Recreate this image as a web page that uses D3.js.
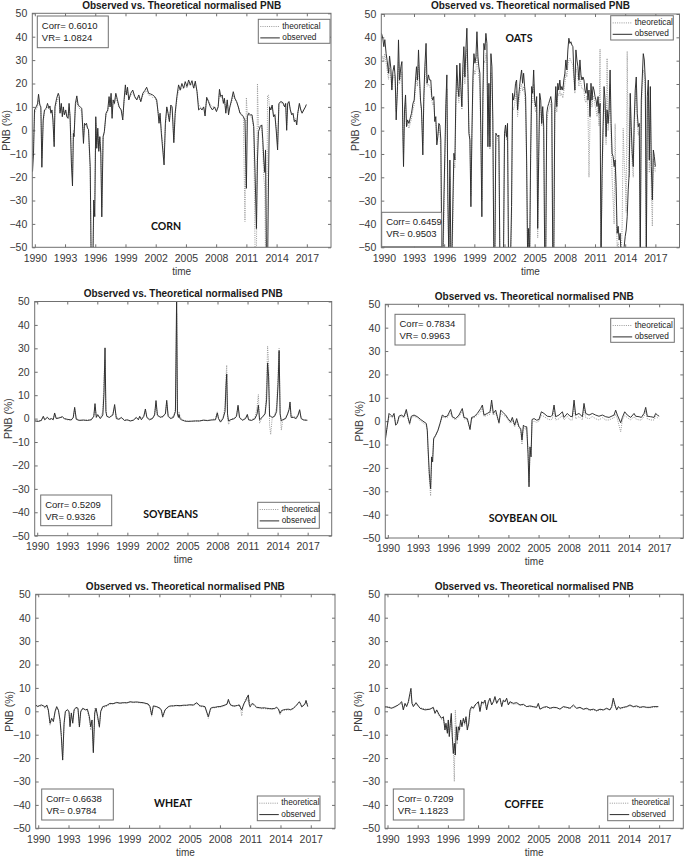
<!DOCTYPE html>
<html>
<head>
<meta charset="utf-8">
<script src="https://cdn.jsdelivr.net/npm/d3@7"></script>
<style>
body { margin: 0; background: #fff; }
svg text { font-family: "Liberation Sans", Arial, sans-serif; }
</style>
</head>
<body>
<svg id="fig" width="685" height="858"></svg>
<script>
// ---- data: decimal year, observed and theoretical normalised PNB (%) ----
const cornT = [1989.77,1989.87,1989.97,1990.13,1990.27,1990.37,1990.5,1990.6,1990.7,1990.83,
1990.96,1991.13,1991.26,1991.4,1991.5,1991.6,1991.7,1991.8,1991.92,1992.0,
1992.17,1992.33,1992.43,1992.5,1992.63,1992.73,1992.83,1992.93,1993.07,1993.17,
1993.3,1993.4,1993.5,1993.63,1993.74,1993.83,1993.9,1994.03,1994.17,1994.3,
1994.5,1994.66,1994.83,1994.93,1995.03,1995.13,1995.23,1995.33,1995.5,1995.59,
1995.75,1995.85,1995.95,1996.05,1996.15,1996.25,1996.35,1996.45,1996.55,1996.65,
1996.78,1996.9,1997.07,1997.24,1997.37,1997.47,1997.57,1997.67,1997.77,1997.9,
1998.04,1998.2,1998.37,1998.57,1998.73,1998.86,1998.99,1999.09,1999.2,1999.33,
1999.52,1999.72,1999.92,2000.12,2000.32,2000.52,2000.72,2000.92,2001.1,2001.3,
2001.5,2001.7,2001.9,2002.1,2002.24,2002.33,2002.43,2002.56,2002.7,2002.83,
2002.96,2003.1,2003.23,2003.36,2003.5,2003.63,2003.8,2003.93,2004.1,2004.27,
2004.43,2004.6,2004.77,2004.93,2005.1,2005.27,2005.43,2005.6,2005.77,2005.93,
2006.1,2006.26,2006.43,2006.6,2006.76,2006.9,2007.06,2007.23,2007.43,2007.63,
2007.83,2008.03,2008.2,2008.33,2008.46,2008.6,2008.72,2008.82,2008.96,2009.1,
2009.23,2009.36,2009.53,2009.7,2009.86,2010.03,2010.2,2010.36,2010.53,2010.7,
2010.86,2011.0,2011.1,2011.23,2011.4,2011.56,2011.73,2011.86,2012.0,2012.1,
2012.2,2012.37,2012.53,2012.63,2012.73,2012.83,2012.9,2013.0,2013.1,2013.2,
2013.3,2013.43,2013.56,2013.7,2013.83,2013.96,2014.1,2014.23,2014.43,2014.63,
2014.8,2014.9,2015.0,2015.1,2015.23,2015.36,2015.5,2015.63,2015.76,2015.9,
2016.0,2016.1,2016.26,2016.4,2016.53,2016.7,2016.86,2016.95];
const cornObs = [-17.7,-10,8.7,10,11.3,15.4,10.8,10,-15.8,4.4,
8.7,9.4,11.5,9.4,10.4,7.3,8.7,4.4,-7,10,
13.7,15.8,14.4,7.3,11.5,5.8,10,6.6,8.7,5.8,
5.1,11.5,5.8,-14,-23.8,-1.3,-2.7,11.5,14.7,10.8,
10,9.4,-5.6,3,2.3,3,0.9,0.4,-15.5,-55,
-60,-29.8,-36.9,5.8,-7.7,0.9,-9,-2.7,-10,-37,
-2.7,-0.6,7.3,8.7,14.4,10,15.8,5.1,13,11.5,
15.8,13,10,8.7,4.4,13,19.4,15.1,18.4,13,
15.8,17.2,14.4,13,15.1,12.3,15.8,17,18.4,15.8,
15.5,15.1,14.4,13,7.3,3,7.3,-1.3,-8.4,-14.8,
3,10,7.3,3.7,10.8,10,-5.3,7.3,14.4,19.4,
17.2,20,18,20.8,18.7,21.5,19.4,21.2,18,21,
16.5,8.7,9.4,8.7,10,6.1,14.1,12.3,10,8.7,
10,8,10,17.5,14.4,15.1,11.5,13.7,7.3,13,
6.6,10,13,16.5,13.7,12.3,10,7.3,6.6,5.8,
4.4,-24.8,5.8,7.3,6.6,6.6,1.6,-18,-42,-12.7,
-0.6,1.6,2.3,-4,-12.7,-18,-8.4,-60,-60,-20,
10,8.7,10.8,5.8,6.6,0.1,-8.4,11.5,12.3,11.8,
10,11.5,0,11.5,12.3,8.7,6.6,7.3,3.7,4.4,
2.3,7.3,11.5,8.7,7.3,8.7,10,11];
const cornTheo = [-12,-6,7,9,10,13,11,9,-12,3,
8,9,10,9,9,8,8,5,-5,9,
12,14,13,8,10,7,9,7,8,6,
6,10,6,-10,-20,0,-1,10,13,10,
9,8,-3,2,2,2,1,0,-20,-55,
-60,-35,-30,3,-6,-1,-8,-3,-8,-33,
-3,-1,7,8,12,10,14,7,12,11,
14,12,10,9,6,12,17,15,17,13,
15,16,14,13,14,12,15,16,17,15,
15,14,14,12,8,4,6,0,-6,-12,
2,9,7,4,10,9,-4,6,13,17,
17,18,18,19,18,20,19,20,18,20,
17,11,10,9,10,8,13,13,11,10,
10,9,10,16,14,14,12,13,9,12,
8,10,12,15,13,12,10,8,7,6,
-39,14,6,7,6,5,1,-50,-55,20,
1,2,2,-8,-20,-25,-55,-60,15,15,
9,9,10,6,7,1,-6,11,12,11,
10,11,2,11,12,9,7,7,4,5,
3,7,11,9,8,9,10,11];

const oatsT = [1989.77,1989.9,1990.0,1990.1,1990.23,1990.33,1990.47,1990.57,1990.7,1990.8,
1990.9,1991.03,1991.13,1991.23,1991.36,1991.46,1991.56,1991.7,1991.8,1991.9,
1991.96,1992.06,1992.16,1992.26,1992.36,1992.5,1992.62,1992.75,1992.9,1993.02,
1993.15,1993.25,1993.35,1993.45,1993.55,1993.65,1993.75,1993.88,1993.98,1994.08,
1994.2,1994.3,1994.44,1994.54,1994.67,1994.77,1994.87,1994.97,1995.07,1995.17,
1995.27,1995.37,1995.47,1995.57,1995.67,1995.77,1995.87,1995.97,1996.07,1996.17,
1996.27,1996.37,1996.47,1996.57,1996.67,1996.77,1996.87,1996.97,1997.07,1997.16,
1997.26,1997.36,1997.46,1997.56,1997.66,1997.76,1997.86,1997.96,1998.06,1998.16,
1998.26,1998.36,1998.46,1998.56,1998.66,1998.76,1998.86,1998.96,1999.06,1999.16,
1999.26,1999.36,1999.45,1999.55,1999.65,1999.75,1999.85,1999.95,2000.05,2000.15,
2000.25,2000.35,2000.45,2000.55,2000.65,2000.75,2000.84,2000.94,2001.04,2001.14,
2001.24,2001.34,2001.44,2001.54,2001.64,2001.74,2001.9,2002.0,2002.1,2002.2,
2002.3,2002.4,2002.5,2002.6,2002.7,2002.8,2002.9,2003.0,2003.1,2003.2,
2003.3,2003.4,2003.5,2003.6,2003.7,2003.8,2003.9,2004.0,2004.1,2004.2,
2004.3,2004.4,2004.5,2004.6,2004.7,2004.8,2004.9,2005.0,2005.1,2005.2,
2005.3,2005.4,2005.5,2005.6,2005.7,2005.8,2005.9,2006.0,2006.1,2006.2,
2006.3,2006.4,2006.5,2006.6,2006.7,2006.8,2006.9,2007.0,2007.1,2007.2,
2007.3,2007.4,2007.5,2007.6,2007.7,2007.8,2007.9,2008.0,2008.1,2008.2,
2008.3,2008.4,2008.5,2008.6,2008.7,2008.8,2008.9,2009.0,2009.1,2009.2,
2009.3,2009.4,2009.5,2009.6,2009.7,2009.8,2009.9,2010.0,2010.1,2010.2,
2010.3,2010.4,2010.5,2010.6,2010.7,2010.8,2010.9,2011.0,2011.1,2011.2,
2011.3,2011.4,2011.5,2011.6,2011.7,2011.8,2011.9,2012.0,2012.1,2012.2,
2012.3,2012.4,2012.5,2012.6,2012.7,2012.8,2012.9,2013.0,2013.1,2013.2,
2013.3,2013.4,2013.5,2013.6,2013.7,2013.8,2013.9,2014.0,2014.1,2014.2,
2014.3,2014.4,2014.5,2014.6,2014.7,2014.8,2014.9,2015.0,2015.1,2015.2,
2015.3,2015.4,2015.5,2015.6,2015.7,2015.8,2015.9,2016.0,2016.1,2016.2,
2016.3,2016.4,2016.5,2016.6,2016.7,2016.8,2016.9,2017.0];
const oatsObs = [41.7,39.6,36,39,33,30,24.6,32,26.7,17.4,
25.3,28,23,4.6,18.9,38.9,21.7,27.4,29.6,-2.6,
-15.4,8.9,15.3,1.7,4.6,3.1,5.3,7.4,11.7,13.1,
21.7,27.4,21.7,34.6,23,13.1,8.9,-10.4,14.6,27.4,
37.4,20.3,23.9,21.7,21.7,14.6,13.1,14.6,3.9,6,
-6.1,-2.6,3.1,2.4,-4,-55,-55,-29.7,-9.7,11.7,
23.9,-29.7,-55,-12.6,-55,-55,-29.7,-9.7,-12.6,13.1,
28.1,18.9,14.6,28.9,18.9,10.3,27.4,36,23,34.6,
43.9,24.6,-1.1,-4,-32.6,-1.1,23,33,28.9,31.7,
42.4,31.7,27.4,24.6,-1.1,-36.9,14.6,37.4,34.6,41.7,
37.4,-6.9,20.3,-6.9,33,27.4,4.6,-55,-55,-1.1,
-1.9,-2.6,-1.9,-55,-55,-55,-55,-1.1,2.4,-2.6,
3.1,-55,-55,-55,-32.6,16,13.1,15.3,20.3,21.7,
8.9,14.6,18.9,23,26,20.3,24.6,18.9,14.6,-12.6,
-55,-41.9,-55,-9.7,18.9,16,26,13.1,10.3,14.6,
-41.9,-11.1,16,13.1,3.1,10.3,1.7,-55,-55,7.4,
10.3,11.7,13.1,14.6,11.7,-55,-55,8.9,18.9,10.3,
20.3,17.4,21.7,17.4,18.9,17.4,21.7,24.6,30.3,26,
34.6,39.6,37.4,38.1,36.7,36,24.6,17.4,34.6,30.3,
27.4,21.7,30.3,23.9,21.7,23,21.7,17.4,16,20.3,
13.1,17.4,6,20.3,13.1,18.9,17.4,14.6,13.1,10.3,
14.6,7.4,11.7,-55,-18.3,1.7,18.9,13.1,-2.6,8.9,
3.1,8.9,26,3.1,-9.7,-11.1,-15.4,-12.6,-24,-44,
-41,-46.9,-44,-55,-55,-55,-49.7,-45.4,-42.6,-36.9,
-25.4,-18.3,16,1.7,-9.7,-15.4,4.6,17.4,23,7.4,
1.7,3.1,-55,13.1,23,33,30.3,21.7,-55,14.6,
21.7,-12.6,18.9,-15.4,-29.7,-8.3,-11.1,-15.4];
const oatsTheo = [30,32,30,33,29,26,22,27,23,18,
22,24,21,8,17,30,20,24,25,0,
-10,7,12,2,3,1,3,5,9,11,
18,23,19,28,21,12,8,-6,12,22,
30,19,20,19,18,13,11,12,4,4,
-4,-2,1,0,-10,-55,-55,-40,-15,8,
18,-35,-55,-20,-55,-55,-40,-14,-16,8,
22,16,12,22,16,9,21,28,20,28,
35,22,2,-3,-28,-3,18,26,24,26,
33,27,23,20,-5,-30,8,30,29,33,
31,-2,15,-8,25,22,2,-55,-55,-3,
-3,-4,-5,-55,-55,-55,-55,-3,0,-4,
1,-55,-55,-55,-40,10,9,11,15,17,
6,11,15,18,20,17,19,15,10,-15,
-55,-48,-55,-14,13,12,20,10,8,11,
-46,-15,11,10,2,7,-2,-55,-55,3,
7,9,10,12,9,-55,-55,5,15,8,
16,15,17,15,16,14,17,20,25,23,
28,30,31,30,29,28,22,16,27,25,
23,19,24,20,18,18,17,13,12,15,
9,-20,4,16,10,15,14,11,9,6,
10,2,35,-50,-25,-2,12,8,-6,31,
0,5,20,-2,-20,-30,-40,3,-30,-50,
-48,-55,-55,-55,-40,1,-13,-20,-35,34,
-10,-20,10,-3,-14,-20,0,12,18,3,
-2,0,-55,8,18,26,25,17,-55,9,
15,-18,13,-25,-41,-12,-14,-18];

const soyT = [1989.75,1990.1,1990.4,1990.61,1990.75,1991.01,1991.2,1991.45,1991.6,1991.74,
1991.9,1992.2,1992.51,1992.7,1993.0,1993.4,1993.6,1993.74,1993.9,1994.2,
1994.6,1995.0,1995.4,1995.65,1995.77,1995.9,1996.04,1996.3,1996.55,1996.67,
1996.77,1996.86,1996.95,1997.2,1997.55,1997.73,1997.9,1998.17,1998.4,1998.7,
1999.0,1999.3,1999.6,1999.9,2000.1,2000.23,2000.4,2000.65,2000.8,2000.95,
2001.2,2001.5,2001.72,2001.86,2002.0,2002.3,2002.55,2002.8,2002.93,2003.07,
2003.3,2003.6,2003.8,2003.92,2004.0,2004.1,2004.16,2004.25,2004.4,2004.7,
2005.0,2005.4,2005.8,2006.2,2006.6,2007.0,2007.4,2007.8,2007.98,2008.1,
2008.3,2008.55,2008.75,2008.85,2008.92,2009.0,2009.1,2009.3,2009.7,2009.9,
2010.05,2010.2,2010.5,2010.8,2010.98,2011.1,2011.4,2011.75,2011.95,2012.08,
2012.2,2012.45,2012.75,2012.9,2013.0,2013.1,2013.2,2013.31,2013.45,2013.7,
2013.9,2014.05,2014.15,2014.25,2014.37,2014.5,2014.8,2015.0,2015.15,2015.24,
2015.35,2015.6,2015.85,2016.05,2016.2,2016.35,2016.6,2016.97];
const soyObs = [-1,-1.2,-0.8,1,-0.5,0.5,-0.3,0,-0.5,2.4,
0,0.3,0.8,0,-0.3,-0.6,0.5,4.8,-0.3,-0.8,
-0.6,-0.8,-0.5,1,6.4,0.5,1.7,0,1.5,11,
30.2,3,1,0.5,1.5,6,0,-0.3,0.5,-0.8,
-0.5,-1,-0.7,0.5,-0.5,1,-0.5,1,4.1,0.5,
-0.5,0,1.5,7.7,1.5,0.5,1,2,7.8,1,
0,0.5,3,52,2,0.5,1.7,0,-0.5,-1,
-1.2,-1.1,-1,-1,-0.7,-0.8,-0.6,-0.5,2.4,0,
-1.5,0,3,14,19,2,-1,-0.5,0,1,
5.7,0.5,-0.7,0,1.7,-0.5,-0.8,0,2,5.7,
-0.5,0.5,2,8,23.8,18,1,1,0.5,1,
3,15,29,2,-1,-0.5,0,2,4,7.1,
0.5,0.5,0,1.5,3.8,0,-0.6,-0.7];
const soyTheo = [-0.5,-1,-1,0.5,-0.5,0.8,-0.5,0,-0.5,2,
0,0.5,0.6,0,-0.5,-0.5,0.5,4,0,-0.5,
-0.8,-0.6,-0.5,1,5,1,1.2,0.5,3,18,
25,4,1,0.5,2,5,0.5,0,0.3,-0.5,
-0.8,-1,-0.5,0.5,-0.5,0.8,0,1.5,3.5,0.5,
0,0,2,6.5,1,1,0.5,2.5,7,1.5,
0.5,1,4,45,3,1,3,1,0,-1,
-1,-1.2,-1,-1.1,-0.5,-1,-0.5,0,3,0.5,
-1,0.5,5,18,22.8,1,-2.5,-0.5,0.5,1.5,
5,0,-0.5,0.5,2,-0.5,-0.5,0.5,5,10.3,
-2,0.5,2.5,14,31,24,-3,-6.8,0,1.5,
5,20,30,3,-5,-1,0.5,2,4,6,
1,1,0.5,2,3.5,0.5,-0.5,-0.8];

const soyOilT = [1989.75,1990.12,1990.28,1990.45,1990.62,1990.78,1990.95,1991.11,1991.34,1991.61,
1991.84,1992.01,1992.17,1992.34,1992.61,1992.94,1993.27,1993.6,1993.83,1993.93,
1994.0,1994.13,1994.26,1994.36,1994.46,1994.56,1994.76,1994.99,1995.19,1995.42,
1995.66,1995.92,1996.25,1996.42,1996.75,1997.08,1997.41,1997.58,1997.91,1998.18,
1998.34,1998.58,1998.91,1999.24,1999.41,1999.57,1999.9,2000.17,2000.33,2000.5,
2000.73,2000.9,2001.06,2001.23,2001.49,2001.73,2001.96,2002.22,2002.39,2002.62,
2002.82,2003.05,2003.22,2003.35,2003.49,2003.65,2003.82,2003.95,2004.05,2004.15,
2004.25,2004.35,2004.55,2004.81,2005.04,2005.28,2005.54,2005.87,2006.21,2006.37,
2006.54,2006.7,2007.03,2007.37,2007.53,2007.86,2008.13,2008.36,2008.53,2008.69,
2009.02,2009.36,2009.52,2009.69,2010.02,2010.35,2010.68,2011.01,2011.35,2011.68,
2012.01,2012.51,2012.67,2012.84,2013.17,2013.34,2013.57,2013.83,2014.17,2014.5,
2014.66,2015.0,2015.23,2015.49,2015.66,2015.82,2016.16,2016.49,2016.65,2016.82,
2017.0];
const soyOilObs = [-8.1,3.3,2.6,1.9,3.3,-1.7,-1,2.1,2.6,1.9,
5,1.6,-1,2.1,2.6,1.9,0.7,-0.3,-1,-3.9,
-11,-22.4,-28.9,-15.3,-17.4,-7.4,-6,-3.9,-1,2.6,
1.9,2.1,5,1.9,1.1,2.6,5.4,1.6,1.1,-3.6,
1.6,1.9,3.3,5.4,6.9,2.6,3.3,4,9,3.3,
4.7,1.9,-0.7,4.7,3.6,2.6,1.1,-0.3,1.6,-1.7,
1.1,-2.4,-3.1,-8.1,-1.7,-2.4,-2.4,-13.9,-28.1,-11,
-15.3,0.7,1.1,0.4,0.7,4,3.3,2.1,1.9,2.6,
6.9,1.9,2.6,4,1.6,3.3,2.1,1.9,9,2.6,
3.3,1.9,7.6,3.3,2.6,3.3,2.6,2.1,2.6,1.9,
1.6,2.6,4.7,2.6,-0.7,1.6,4,2.6,1.6,3.3,
2.1,1.9,1.6,3.3,5.9,2.1,1.9,1.6,3.3,2.6,
2.1];
const soyOilTheo = [-7,2,2,1.5,2.5,-1,-0.5,1.5,2,1.5,
4,1,-1.5,1.5,2,1.5,0,-1,-2,-4.5,
-12,-25,-32,-18,-15,-8,-6.5,-4,-1.5,2,
1.5,1.5,3.5,1.5,0.5,2,4,1,0.5,-3,
1,1.5,2.5,4,5.5,2,2.5,3,7,2.5,
3.5,1.5,-1,3.5,2.5,2,0.5,-1,0.5,-2.5,
0,-3,-4,-10,-2.5,-3.5,-3,-12,-26,-13,
-14,-0.5,0,-0.5,0,2.5,2,1,0.5,1,
5,0.5,1,2.5,0.5,2,0.5,0.5,7,1,
2,0.5,6,1.5,1,2,1,0.5,1.5,0.5,
0.5,1.5,3,1,-4.6,0.5,2.5,1.5,0.5,2,
1,0.5,0.5,2,4.5,1,0.5,0.5,2,1.5,
1];

const wheatT = [1989.75,1989.95,1990.15,1990.34,1990.55,1990.67,1990.85,1991.0,1991.17,1991.33,
1991.5,1991.67,1991.83,1992.0,1992.16,1992.29,1992.42,1992.56,1992.69,1992.89,
1993.05,1993.15,1993.28,1993.42,1993.55,1993.75,1993.94,1994.08,1994.21,1994.41,
1994.67,1994.87,1995.07,1995.2,1995.33,1995.46,1995.6,1995.73,1995.89,1996.06,
1996.19,1996.39,1996.72,1996.9,1997.11,1997.4,1997.77,1998.1,1998.43,1998.8,
1999.1,1999.4,1999.75,2000.1,2000.4,2000.9,2001.07,2001.24,2001.4,2001.74,
2002.07,2002.2,2002.33,2002.56,2002.89,2003.1,2003.39,2003.7,2004.05,2004.4,
2004.71,2005.0,2005.37,2005.7,2006.03,2006.3,2006.52,2006.85,2007.08,2007.3,
2007.51,2007.8,2008.01,2008.3,2008.51,2008.7,2008.84,2008.95,2009.07,2009.3,
2009.5,2009.75,2009.93,2010.05,2010.16,2010.27,2010.39,2010.55,2010.65,2010.82,
2010.9,2010.98,2011.1,2011.25,2011.45,2011.64,2011.9,2012.14,2012.4,2012.63,
2012.9,2013.13,2013.4,2013.62,2013.8,2013.95,2014.1,2014.28,2014.5,2014.78,
2015.0,2015.27,2015.45,2015.6,2015.75,2015.87,2016.0,2016.1,2016.33,2016.45,
2016.53,2016.7];
const wheatObs = [2.7,2,2.5,2.7,2.2,1.7,2.7,0.6,-5.1,-3,
-4.4,0,2,0.5,-3.7,-10.8,-20.8,-5.1,0,0.6,
0,-6.6,-0.7,-5.1,0.6,1.7,1.3,-6.6,0,1.3,
0.6,0.9,-2.3,-6.6,-3.7,-17.7,-0.7,1.3,-2.3,-6.6,
0,2,2.4,2.8,3.4,3.2,3.8,3.5,3.7,3.6,
4.1,3.9,4,3.8,3.7,3.1,2,-1.6,2.3,2,
1.3,0.5,-2.3,0.6,2,2.3,2.3,2.5,2.4,2.6,
2.6,2.8,2.7,3.7,2.3,2.2,2,-2.3,1.3,1.7,
1.7,2,2,2.4,2.7,3,5.1,3.5,2.7,2.3,
2.3,2.5,2.7,1.5,0.6,2,3.4,4.5,5.6,7,
3,2,2.5,3.4,2.5,1.7,1.6,1.4,1.5,1.3,
1.2,1.1,1.2,1.7,1,-0.9,0.3,0.6,0.8,0.9,
0.7,1.3,2,2.7,3.5,4.1,3,1.9,2.7,3.5,
4.6,2];
const wheatTheo = [2.2,2.5,2,2.3,2.5,1.3,2.2,0.3,-6,-3.5,
-4,-0.5,1.5,0.3,-4,-9,-21,-6,-0.5,1,
-0.5,-6,-1.5,-4.5,0,1.2,1,-7,-0.5,1,
0.8,0.5,-4,-8,-4,-17,1.5,1,-3,-7,
-0.5,1.5,2,2.5,3,3.4,3.5,3.3,3.5,3.8,
3.8,3.7,3.8,3.6,3.4,3,1.8,-2.2,2,1.8,
1,0.2,-2.8,0.3,1.8,2,2.4,2.3,2.2,2.4,
2.5,2.6,2.5,3.3,2,2,1.8,-3,0.8,1.5,
1.5,1.8,1.8,2,2.5,3.5,4.5,3.8,2.5,2.2,
2,2.8,2.5,1,-2,1.5,3,5.5,6,4,
5,1.5,3.5,3,2.2,1.5,1.2,1.1,1.2,1,
0.9,0.8,1,1.5,0.8,-1.5,0,0.4,0.5,0.6,
0.5,1,1.8,2.5,3.2,3.8,3.2,2,2.5,3.2,
4.8,2.5];

const coffeeT = [1989.75,1990.08,1990.41,1990.74,1991.08,1991.24,1991.41,1991.57,1991.74,1991.9,
1992.07,1992.23,1992.33,1992.43,1992.57,1992.83,1993.23,1993.73,1994.22,1994.55,
1994.72,1994.89,1995.15,1995.38,1995.55,1995.71,1995.81,1995.95,1996.04,1996.14,
1996.24,1996.34,1996.44,1996.54,1996.64,1996.74,1996.84,1996.94,1997.04,1997.14,
1997.27,1997.4,1997.54,1997.67,1997.8,1997.93,1998.07,1998.2,1998.36,1998.53,
1998.7,1998.86,1999.03,1999.19,1999.36,1999.52,1999.69,1999.85,2000.02,2000.18,
2000.35,2000.52,2000.68,2000.85,2001.01,2001.18,2001.35,2001.51,2001.68,2001.84,
2002.01,2002.17,2002.5,2002.84,2003.17,2003.5,2003.83,2004.16,2004.49,2004.82,
2004.99,2005.15,2005.49,2005.82,2006.15,2006.48,2006.81,2007.14,2007.47,2007.81,
2008.14,2008.47,2008.8,2009.13,2009.46,2009.79,2010.12,2010.46,2010.79,2011.12,
2011.45,2011.78,2012.11,2012.28,2012.44,2012.61,2012.78,2012.94,2013.11,2013.44,
2013.77,2014.1,2014.43,2014.76,2015.09,2015.43,2015.76,2016.09,2016.42,2016.92];
const coffeeObs = [2,1.7,1.3,2,2.7,3.4,4.1,0.6,3.4,2,
4.1,7.7,9.8,3.4,2,3.7,1.3,0.6,0.9,1.7,
-0.9,0.6,-1.6,-3,-2.3,-8,-5.1,-9.4,-3.7,-10.8,
-5.1,-0.9,-10.8,-18,-13.7,-18.7,-6.6,-12.3,-6.6,-8,
-3.7,-6.6,-3,-5.1,-2.3,-8,-5.1,0.6,2,1.3,
2.7,3.4,4.1,-0.1,4.1,3.4,4.8,0.6,4.1,5.6,
2.7,4.1,6.3,3.4,4.8,5.6,2,4.8,4.1,5.6,
2.7,4.1,3.4,3.7,2.7,3,2,2.3,2,1.7,
3.4,0.9,1.7,2,1.3,1.7,1.6,0.9,2,1.7,
1.3,2.7,1.3,1.7,0.9,1.3,0.6,0.9,0.3,0.9,
0.6,1.3,0.6,2,5.6,2.7,0.6,2,1.3,1.7,
2,2.7,2,2.3,1.7,2,1.7,1.7,2,2];
const coffeeTheo = [1.5,2,1.5,1.5,3,3,3.5,1,3,2.5,
3.5,6,8.5,4,2.5,3,1.5,1,1,1.5,
-0.5,0,-2,-3.5,-3,-7,-6,-8.5,-4.5,-9.5,
-6,-2,-12,-16,-30,0.5,-8,-14,-7,-9,
-4.5,-6,-3.5,-6,-3,-7,-6,-0.5,1.5,1,
2.2,3,3.5,0.5,3.5,3,4,1,3.5,5,
3,3.5,5.5,3.5,4.2,5,2.5,4.2,4,5,
3,3.5,3,3.2,2.5,2.7,2,2,1.8,1.5,
2.8,1,1.5,1.8,1.2,1.5,1.4,1,1.8,1.5,
1.2,2.2,1.2,1.5,0.8,1,0.3,0.7,0,0.6,
0.5,1,0.5,1.5,4.8,2.2,0.5,1.7,1,1.5,
1.8,2.3,1.8,2,1.5,1.8,1.5,1.5,1.8,1.8];

const yTicks = [-50,-40,-30,-20,-10,0,10,20,30,40,50];
const xTicks = [1990,1993,1996,1999,2002,2005,2008,2011,2014,2017];
const titleText = "Observed vs. Theoretical normalised PNB";

// layout of the six axes (pixels), stats box, legend and label placement
const panels = [
  {name:"CORN", t:cornT, obs:cornObs, theo:cornTheo, corr:"0.6010", vr:"1.0824",
   box:[32.3,13.3,331,247.3], stat:[37.3,16,71,31.7], leg:[258.3,19.3,71.7,24], lab:[166,227.7]},
  {name:"OATS", t:oatsT, obs:oatsObs, theo:oatsTheo, corr:"0.6459", vr:"0.9503",
   box:[381.3,14,679.5,247.3], stat:[381.7,212.3,60,34.4], leg:[610.7,15.7,62.6,24.3], lab:[519,39.3]},
  {name:"SOYBEANS", t:soyT, obs:soyObs, theo:soyTheo, corr:"0.5209", vr:"0.9326",
   box:[34.7,301.5,331.7,535.7], stat:[40.7,495,71,30.7], leg:[257.7,502.3,61.6,26], lab:[170.7,515]},
  {name:"SOYBEAN OIL", t:soyOilT, obs:soyOilObs, theo:soyOilTheo, corr:"0.7834", vr:"0.9963",
   box:[385.3,304.3,683.3,538], stat:[395,314.3,70,30.7], leg:[610.7,318.3,63.6,24], lab:[523,519]},
  {name:"WHEAT", t:wheatT, obs:wheatObs, theo:wheatTheo, corr:"0.6638", vr:"0.9784",
   box:[35.7,594.3,335,828.3], stat:[41.7,789,71.6,31], leg:[257.3,796,62.7,24.7], lab:[173,804]},
  {name:"COFFEE", t:coffeeT, obs:coffeeObs, theo:coffeeTheo, corr:"0.7209", vr:"1.1823",
   box:[385,594.3,683.3,828.3], stat:[393.3,789,70.7,31], leg:[607.7,796,65.6,24.7], lab:[524,805]}
];

const svg = d3.select("#fig");
const axisCol = "#707070", textCol = "#383838";
const theoCol = "#9a9a9a", obsCol = "#2a2a2a";

panels.forEach(function(p, i) {
  const [L, T, R, B] = p.box;
  const x = d3.scaleLinear().domain([1989.75, 2019.4]).range([L, R]);
  const y = d3.scaleLinear().domain([-50, 50]).range([B, T]);
  const g = svg.append("g");

  g.append("rect").attr("x", L).attr("y", T).attr("width", R - L).attr("height", B - T)
    .attr("fill", "#fff");

  // clip so spikes below -50 / above 50 stop at the frame
  g.append("clipPath").attr("id", "clip" + i)
    .append("rect").attr("x", L).attr("y", T).attr("width", R - L).attr("height", B - T);

  // ticks pointing inward on all four sides
  const ax = [
    [d3.axisBottom(x).tickValues(xTicks).tickFormat(d3.format("d")), B],
    [d3.axisTop(x).tickValues(xTicks).tickFormat(""), T]
  ];
  ax.forEach(function(a) {
    const sel = g.append("g").attr("transform", "translate(0," + a[1] + ")")
      .call(a[0].tickSizeInner(-3).tickSizeOuter(0).tickPadding(7));
    sel.select(".domain").remove();
    sel.selectAll("line").attr("stroke", axisCol);
    sel.selectAll("text").attr("fill", textCol).style("font-size", "10.5px")
      .style("font-family", "'Liberation Sans', Arial, sans-serif");
  });
  const ay = [
    [d3.axisLeft(y).tickValues(yTicks), L],
    [d3.axisRight(y).tickValues(yTicks).tickFormat(""), R]
  ];
  ay.forEach(function(a) {
    const sel = g.append("g").attr("transform", "translate(" + a[1] + ",0)")
      .call(a[0].tickSizeInner(-3).tickSizeOuter(0).tickPadding(5));
    sel.select(".domain").remove();
    sel.selectAll("line").attr("stroke", axisCol);
    sel.selectAll("text").attr("fill", textCol).style("font-size", "10.5px")
      .style("font-family", "'Liberation Sans', Arial, sans-serif");
  });

  // series
  const line = d3.line().x(d => x(d[0])).y(d => y(d[1]));
  const lines = g.append("g").attr("clip-path", "url(#clip" + i + ")");
  lines.append("path").datum(d3.zip(p.t, p.theo)).attr("d", line)
    .attr("fill", "none").attr("stroke", theoCol).attr("stroke-width", 1)
    .attr("stroke-dasharray", "1,1.2");
  lines.append("path").datum(d3.zip(p.t, p.obs)).attr("d", line)
    .attr("fill", "none").attr("stroke", obsCol).attr("stroke-width", 0.95);

  // frame
  g.append("rect").attr("x", L).attr("y", T).attr("width", R - L).attr("height", B - T)
    .attr("fill", "none").attr("stroke", axisCol).attr("stroke-width", 1);

  // title and axis labels
  g.append("text").attr("x", (L + R) / 2).attr("y", T - 7.3)
    .attr("text-anchor", "middle").attr("dominant-baseline", "middle")
    .style("font-size", "10px").style("font-weight", "bold").attr("fill", "#1a1a1a")
    .text(titleText);
  g.append("text").attr("x", (L + R) / 2).attr("y", B + 24.6)
    .attr("text-anchor", "middle").attr("dominant-baseline", "middle")
    .style("font-size", "10px").attr("fill", textCol).text("time");
  g.append("text").attr("transform", "translate(" + (L - 25.5) + "," + ((T + B) / 2) + ") rotate(-90)")
    .attr("text-anchor", "middle").attr("dominant-baseline", "middle")
    .style("font-size", "10.5px").attr("fill", textCol).text("PNB (%)");

  // Corr / VR box
  const [sx, sy, sw, sh] = p.stat;
  g.append("rect").attr("x", sx).attr("y", sy).attr("width", sw).attr("height", sh)
    .attr("fill", "#fff").attr("stroke", axisCol).attr("stroke-width", 1);
  g.append("text").attr("x", sx + 4.5).attr("y", sy + 10).attr("dominant-baseline", "middle")
    .style("font-size", "9.5px").attr("fill", "#222").text("Corr= " + p.corr);
  g.append("text").attr("x", sx + 4.5).attr("y", sy + 22).attr("dominant-baseline", "middle")
    .style("font-size", "9.5px").attr("fill", "#222").text("VR= " + p.vr);

  // legend
  const [lx, ly, lw, lh] = p.leg;
  g.append("rect").attr("x", lx).attr("y", ly).attr("width", lw).attr("height", lh)
    .attr("fill", "#fff").attr("stroke", axisCol).attr("stroke-width", 1);
  const rows = [["theoretical", theoCol, "1,1.2", ly + 7.2], ["observed", obsCol, null, ly + 18.6]];
  rows.forEach(function(r) {
    g.append("line").attr("x1", lx + 2).attr("x2", lx + 21.5).attr("y1", r[3]).attr("y2", r[3])
      .attr("stroke", r[1]).attr("stroke-width", 1).attr("stroke-dasharray", r[2]);
    g.append("text").attr("x", lx + 24).attr("y", r[3]).attr("dominant-baseline", "middle")
      .style("font-size", "8.3px").attr("fill", "#222").text(r[0]);
  });

  // commodity name
  g.append("text").attr("x", p.lab[0]).attr("y", p.lab[1])
    .attr("text-anchor", "middle").attr("dominant-baseline", "middle")
    .style("font-family", "Lato, 'Open Sans', sans-serif").style("font-weight", "bold")
    .style("font-size", "10.5px").attr("fill", "#111").text(p.name);
});
</script>
</body>
</html>
